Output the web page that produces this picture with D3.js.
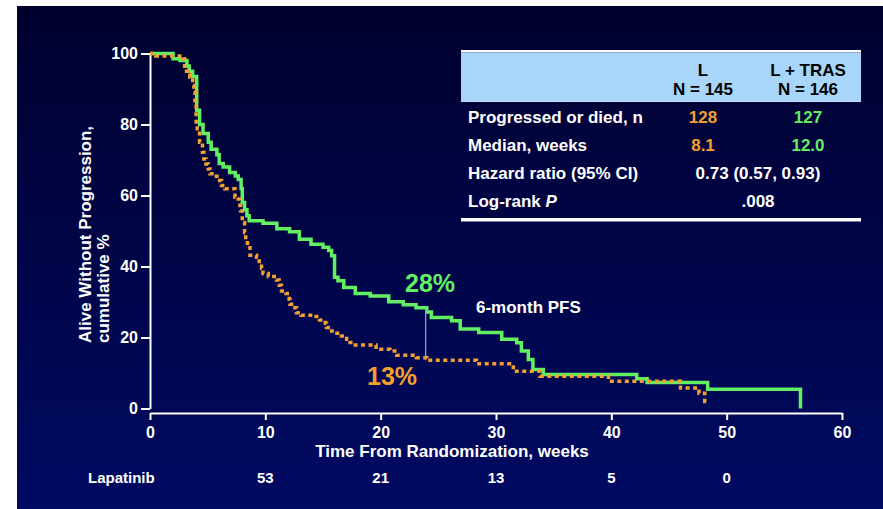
<!DOCTYPE html>
<html>
<head>
<meta charset="utf-8">
<script src="https://cdn.jsdelivr.net/npm/d3@7"></script>
<style>
  html, body { margin: 0; padding: 0; background: #ffffff; }
  svg { display: block; }
  text { font-family: "Liberation Sans", Arial, sans-serif; font-weight: bold; }
</style>
</head>
<body>
<svg id="chart" width="883" height="509"></svg>
<script>
// Kaplan-Meier progression-free survival, lapatinib alone vs lapatinib + trastuzumab
const weekTicks = [0, 10, 20, 30, 40, 50, 60];
const pctTicks = [0, 20, 40, 60, 80, 100];

// L + TRAS: step times (weeks) and cumulative % after each step
const trasTime = [0, 2.0, 2.6, 3.2, 3.4, 3.7, 4.05, 4.3, 4.6, 5.05, 5.3, 5.8, 6.0, 6.35, 6.9, 7.4, 7.65,
  7.9, 8.0, 8.2, 8.4, 8.6, 9.8, 11.0, 12.1, 12.95, 13.96, 15.0, 15.5, 15.75, 16.0, 16.3, 16.8, 17.8,
  19.1, 20.7, 21.96, 23.07, 24.0, 24.4, 26.15, 26.9, 28.5, 30.5, 31.8, 32.2, 32.8, 33.2, 34.1, 42.2,
  43.1, 48.35, 56.4];
const trasPFS = [100, 98.5, 98, 96.5, 95, 93.5, 84, 80, 77.5, 75, 73, 71.5, 69, 68, 66.5, 65.5, 64.5,
  62, 58, 56, 54.3, 52.9, 52.2, 50.6, 49.8, 47.7, 46.3, 45.4, 44.5, 43, 37, 36, 34.1, 32.4,
  31.7, 30.1, 29.2, 28.4, 27.2, 25.6, 24.7, 22.4, 21.4, 19.5, 18.5, 16.2, 13.8, 11, 9.6, 8.4,
  7.3, 5.4, 0];

// L: step times (weeks) and cumulative % after each step
const lapTime = [0, 0.5, 2.9, 3.0, 3.3, 3.45, 3.7, 3.8, 3.9, 4.0, 4.1, 4.3, 4.55, 4.67, 4.85, 5.05, 5.2,
  5.6, 5.8, 6.2, 6.5, 7.37, 7.65, 7.8, 7.85, 8.0, 8.2, 8.3, 8.45, 8.67, 9.24, 9.47, 9.67, 9.8, 10.26,
  10.97, 11.2, 11.4, 11.8, 12.07, 12.14, 12.57, 12.7, 13.1, 14.2, 14.7, 15.2, 15.3, 15.75, 16.05,
  16.6, 17.05, 17.35, 17.8, 19.6, 20.8, 21.4, 23.1, 24.0, 28.3, 31.5, 33.8, 39.75, 46.0, 47.6, 48.1, 48.25];
const lapPFS = [100, 99.3, 98.5, 95, 94.3, 93.4, 91, 89.2, 86, 80, 78.8, 75, 72.2, 70.3, 68.9, 67.5, 66.1,
  65.4, 64.2, 62.8, 61.9, 59.5, 59, 57.2, 55.7, 52.4, 49.6, 47.3, 45.8, 43.2, 42.6, 40.7, 39.5, 38, 37.2,
  36.2, 34.7, 33.1, 32.4, 30.8, 29.4, 28.4, 27, 26.3, 25.9, 24.9, 24, 22.8, 21.8, 21.2,
  20.4, 19.5, 18.6, 17.9, 16.7, 16.2, 15, 14.3, 13.6, 12.6, 10.5, 9.1, 7.7, 5.8, 4.3, 2.0, 2.0];

// 6-month landmark
const landmarkWeek = 23.9;
const landmarkTras = 28;
const landmarkLap = 13;
const landmarkLabels = ["28%", "13%", "6-month PFS"];

// Number at risk
const riskLabel = "Lapatinib";
const riskWeeks = [10, 20, 30, 40, 50];
const riskLapatinib = [53, 21, 13, 5, 0];

// Summary table
const tableHeads = ["L", "L + TRAS"];
const tableNs = ["N = 145", "N = 146"];
const rowLabels = ["Progressed or died, n", "Median, weeks", "Hazard ratio (95% CI)", "Log-rank "];
const rowL = ["128", "8.1"];
const rowTras = ["127", "12.0"];
const rowShared = ["0.73 (0.57, 0.93)", ".008"];

const GREEN = "#62f062";
const ORANGE = "#f4a030";

const svg = d3.select("#chart");

// background panel
const defs = svg.append("defs");
const grad = defs.append("linearGradient").attr("id", "bg").attr("x1", 0).attr("y1", 0).attr("x2", 0).attr("y2", 1);
grad.append("stop").attr("offset", "0%").attr("stop-color", "#00002e");
grad.append("stop").attr("offset", "100%").attr("stop-color", "#000a62");
svg.append("rect").attr("x", 17).attr("y", 6).attr("width", 866).attr("height", 503).attr("fill", "url(#bg)");

const x = d3.scaleLinear().domain([0, 60]).range([150, 842]);
const y = d3.scaleLinear().domain([0, 100]).range([408.5, 53.5]);

// y axis
const yAxis = svg.append("g").attr("transform", "translate(150,0)")
  .call(d3.axisLeft(y).tickValues(pctTicks).tickSize(9).tickSizeOuter(0).tickPadding(3));
// x axis
const xAxis = svg.append("g").attr("transform", "translate(0,413)")
  .call(d3.axisBottom(x).tickValues(weekTicks).tickSize(7).tickSizeOuter(0).tickPadding(7));
[yAxis, xAxis].forEach(g => {
  g.select(".domain").attr("stroke", "#ffffff").attr("stroke-width", 2);
  g.selectAll(".tick line").attr("stroke", "#ffffff").attr("stroke-width", 2);
  g.selectAll(".tick text").attr("fill", "#ffffff").style("font-size", "16px")
    .style("font-family", "'Liberation Sans', Arial, sans-serif").style("font-weight", "bold");
});

// axis titles
svg.append("text").attr("transform", "translate(91,343) rotate(-90)")
  .attr("fill", "#fff").style("font-size", "17px").text("Alive Without Progression,");
svg.append("text").attr("transform", "translate(109,343) rotate(-90)")
  .attr("fill", "#fff").style("font-size", "17px").text("cumulative %");
svg.append("text").attr("x", 452).attr("y", 457).attr("text-anchor", "middle")
  .attr("fill", "#fff").style("font-size", "17px").text("Time From Randomization, weeks");

// number at risk row
svg.append("text").attr("x", 88).attr("y", 483).attr("fill", "#fff").style("font-size", "15px").text(riskLabel);
svg.selectAll("text.risk").data(riskWeeks).join("text").attr("class", "risk")
  .attr("x", d => x(d)).attr("y", 483).attr("text-anchor", "middle")
  .attr("fill", "#fff").style("font-size", "15px").text((d, i) => riskLapatinib[i]);

// survival curves
const step = d3.line().x(d => x(d[0])).y(d => y(d[1])).curve(d3.curveStepAfter);
svg.append("path").datum(d3.zip(trasTime, trasPFS)).attr("d", step)
  .attr("fill", "none").attr("stroke", GREEN).attr("stroke-width", 3.5);
svg.append("path").datum(d3.zip(lapTime, lapPFS)).attr("d", step)
  .attr("fill", "none").attr("stroke", ORANGE).attr("stroke-width", 3.5).attr("stroke-dasharray", "4 3.5");

// 6-month landmark marker and labels
svg.append("line").attr("x1", x(landmarkWeek)).attr("x2", x(landmarkWeek))
  .attr("y1", y(landmarkTras)).attr("y2", y(landmarkLap + 0.6))
  .attr("stroke", "#9a9ab8").attr("stroke-width", 1.3);
svg.append("text").attr("x", 405).attr("y", 292).attr("fill", GREEN).style("font-size", "25px").text(landmarkLabels[0]);
svg.append("text").attr("x", 367).attr("y", 385).attr("fill", ORANGE).style("font-size", "25px").text(landmarkLabels[1]);
svg.append("text").attr("x", 476).attr("y", 313).attr("fill", "#fff").style("font-size", "17px").text(landmarkLabels[2]);

// summary table
const colL = 703, colT = 808, colMid = 758, labelX = 468;
svg.append("rect").attr("x", 461).attr("y", 50).attr("width", 400).attr("height", 2.5).attr("fill", "#ffffff");
svg.append("rect").attr("x", 461).attr("y", 52.5).attr("width", 400).attr("height", 48.5).attr("fill", "#a8d6fb");
svg.append("rect").attr("x", 461).attr("y", 101).attr("width", 400).attr("height", 1).attr("fill", "#c8dcf0");
svg.append("rect").attr("x", 461).attr("y", 218).attr("width", 400).attr("height", 3.5).attr("fill", "#ffffff");

[colL, colT].forEach((cx, i) => {
  svg.append("text").attr("x", cx).attr("y", 76).attr("text-anchor", "middle").attr("fill", "#000")
    .style("font-size", "17px").text(tableHeads[i]);
  svg.append("text").attr("x", cx).attr("y", 95).attr("text-anchor", "middle").attr("fill", "#000")
    .style("font-size", "17px").text(tableNs[i]);
});

const rowY = [123, 151, 179, 207];
rowLabels.forEach((lab, i) => {
  const t = svg.append("text").attr("x", labelX).attr("y", rowY[i]).attr("fill", "#fff").style("font-size", "17px").text(lab);
  if (i === 3) t.append("tspan").style("font-style", "italic").text("P");
});
rowL.forEach((v, i) => {
  svg.append("text").attr("x", colL).attr("y", rowY[i]).attr("text-anchor", "middle").attr("fill", ORANGE).style("font-size", "17px").text(v);
});
rowTras.forEach((v, i) => {
  svg.append("text").attr("x", colT).attr("y", rowY[i]).attr("text-anchor", "middle").attr("fill", GREEN).style("font-size", "17px").text(v);
});
rowShared.forEach((v, i) => {
  svg.append("text").attr("x", colMid).attr("y", rowY[i + 2]).attr("text-anchor", "middle").attr("fill", "#fff").style("font-size", "17px").text(v);
});
</script>
</body>
</html>
